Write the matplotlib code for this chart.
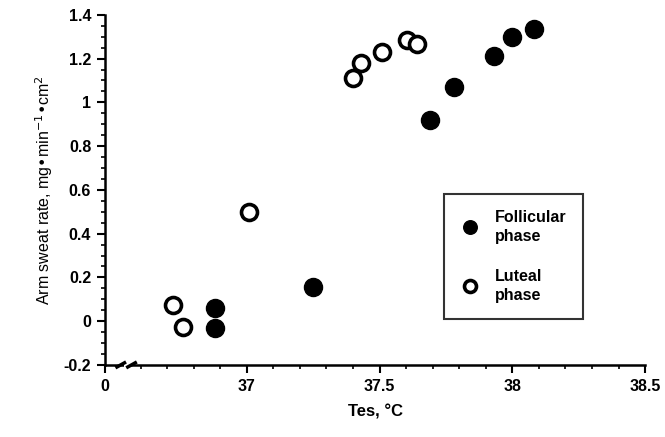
import matplotlib
matplotlib.use("Agg")
import matplotlib.pyplot as plt
import numpy as np

plt.rcParams['font.family'] = ['Liberation Sans', 'DejaVu Sans']
plt.rcParams['axes.unicode_minus'] = False

# Data
follicular_x = [36.88, 36.88, 37.25, 37.69, 37.78, 37.93, 38.00, 38.08]
follicular_y = [0.06, -0.03, 0.155, 0.92, 1.07, 1.21, 1.30, 1.335]
luteal_x = [36.72, 36.76, 37.01, 37.40, 37.43, 37.51, 37.605, 37.64]
luteal_y = [0.075, -0.025, 0.50, 1.11, 1.18, 1.23, 1.285, 1.265]

x_ticks = [36.466, 37, 37.5, 38, 38.5]
x_labels = ["0", "37", "37.5", "38", "38.5"]
y_ticks = [-0.2, 0, 0.2, 0.4, 0.6, 0.8, 1, 1.2, 1.4]
y_labels = ["-0.2", "0", "0.2", "0.4", "0.6", "0.8", "1", "1.2", "1.4"]

fig = plt.figure(figsize=(6.65, 4.37), dpi=100)
ax = fig.add_axes([0.158, 0.165, 0.812, 0.801])

ax.plot(follicular_x, follicular_y, 'o', color='black', markersize=13,
        label="Follicular\nphase", clip_on=False)
ax.plot(luteal_x, luteal_y, 'o', markerfacecolor='white', markeredgecolor='black',
        markeredgewidth=2.6, markersize=11.5, label="Luteal\nphase", clip_on=False)

ax.set_xlim(x_ticks[0], 38.5)
ax.set_ylim(-0.2, 1.4)
ax.set_xticks(x_ticks)
ax.set_xticklabels(x_labels, fontweight='bold', fontsize=11.5)
ax.set_yticks(y_ticks)
ax.set_yticklabels(y_labels, fontweight='bold', fontsize=11.5)
ax.set_xticks(np.arange(36.6, 38.45, 0.1), minor=True)
ax.set_yticks(np.arange(-0.2, 1.4, 0.05), minor=True)
ax.tick_params(which='major', direction='out', length=6, width=1.5, pad=4)
ax.tick_params(which='minor', direction='out', length=3, width=1.2)

for s in ['top', 'right']:
    ax.spines[s].set_visible(False)
for s in ['left', 'bottom']:
    ax.spines[s].set_linewidth(1.8)

# axis break on the x axis
trans = ax.transAxes
ax.add_patch(plt.Rectangle((0.035, -0.01), 0.012, 0.02, transform=trans,
                           facecolor='white', edgecolor='none', clip_on=False, zorder=5))
for x0 in [0.030, 0.050]:
    ax.plot([x0 - 0.008, x0 + 0.006], [-0.006, 0.006], color='black', lw=2.5,
            transform=trans, clip_on=False, zorder=6)

ax.set_xlabel("Tes, °C", fontweight='bold', fontsize=12, labelpad=8)
ax.set_ylabel("Arm sweat rate, mg•min$^{-1}$•cm$^{2}$", fontsize=11.5, labelpad=6)

leg = ax.legend(loc='upper left', bbox_to_anchor=(0.628, 0.488), frameon=True,
                fancybox=False, edgecolor='black', markerscale=0.75,
                handlelength=1.2, handletextpad=1.0, labelspacing=1.6, borderpad=1.0,
                borderaxespad=0, prop={'weight': 'bold', 'size': 11.5})
leg.get_frame().set_linewidth(1.5)
for t in leg.get_texts():
    t.set_linespacing(1.3)

plt.savefig("out.png", dpi=100)
